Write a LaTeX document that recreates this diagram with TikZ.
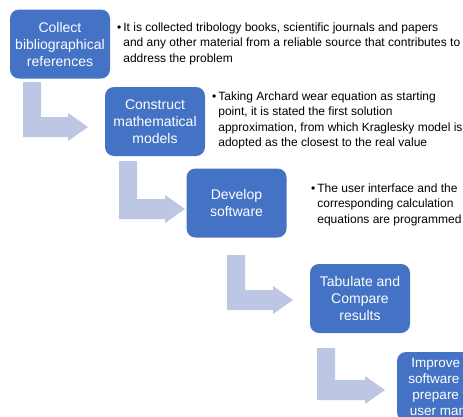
\documentclass[tikz,border=0pt]{standalone}
\usepackage{fontspec}
\setmainfont{Liberation Sans}
\usepackage{tikz}

\definecolor{boxblue}{RGB}{68,114,196}
\definecolor{arwblue}{RGB}{189,198,226}

% bent block arrow: x of stem, top of stem, y of bar, x of tip
\newcommand{\bentarrow}[4]{%
  \fill [arw] (#1,#2) -- (#1+18,#2) -- (#1+18,#3-10) -- (#4-20,#3-10) -- (#4-20,#3-14)
    -- (#4,#3) -- (#4-20,#3+14) -- (#4-20,#3+10) -- (#1,#3+10) -- cycle;}

\begin{document}
\begin{tikzpicture}[
  x=1pt, y=-1pt,
  pnode/.style={rectangle, rounded corners=9pt, fill=boxblue, text=white, align=center,
    minimum width=100pt, minimum height=69pt, inner sep=0pt, font=\fontsize{14}{17}\selectfont},
  tnode/.style={anchor=base west, inner sep=0pt, font=\fontsize{12}{15.5}\selectfont},
  arw/.style={fill=arwblue}
  ]

\useasboundingbox (0,0) rectangle (463,416);
\clip (0,0) rectangle (463,416);

\node [pnode] (collect) at (60,44) {Collect\\bibliographical\\references};
\node [pnode] (construct) at (155,121.5) {Construct\\mathematical\\models};
\node [pnode] (develop) at (236.5,203) {Develop\\software};
\node [pnode] (tabulate) at (360,298.5) {Tabulate and\\Compare\\results};
\node [pnode, font=\fontsize{13.5}{16}\selectfont] (improve) at (447,386.5) {Improve the\\software and\\prepare the\\user manual};

\node [tnode] (collectnote) at (117,31) {\begin{tabular}[t]{@{}l@{\hspace{2pt}}l@{}}
  \textbullet & It is collected tribology books, scientific journals and papers\\
  & and any other material from a reliable source that contributes to\\
  & address the problem\end{tabular}};
\node [tnode] (constructnote) at (212,100) {\begin{tabular}[t]{@{}l@{\hspace{2pt}}l@{}}
  \textbullet & Taking Archard wear equation as starting\\
  & point, it is stated the first solution\\
  & approximation, from which Kraglesky model is\\
  & adopted as the closest to the real value\end{tabular}};
\node [tnode] (developnote) at (311,192) {\begin{tabular}[t]{@{}l@{\hspace{2pt}}l@{}}
  \textbullet & The user interface and the\\
  & corresponding calculation\\
  & equations are programmed\end{tabular}};

\bentarrow{23}{82}{127}{88}
\bentarrow{119}{161}{209}{185}
\bentarrow{227}{255}{300}{293}
\bentarrow{317}{348}{390}{385}

\end{tikzpicture}
\end{document}
